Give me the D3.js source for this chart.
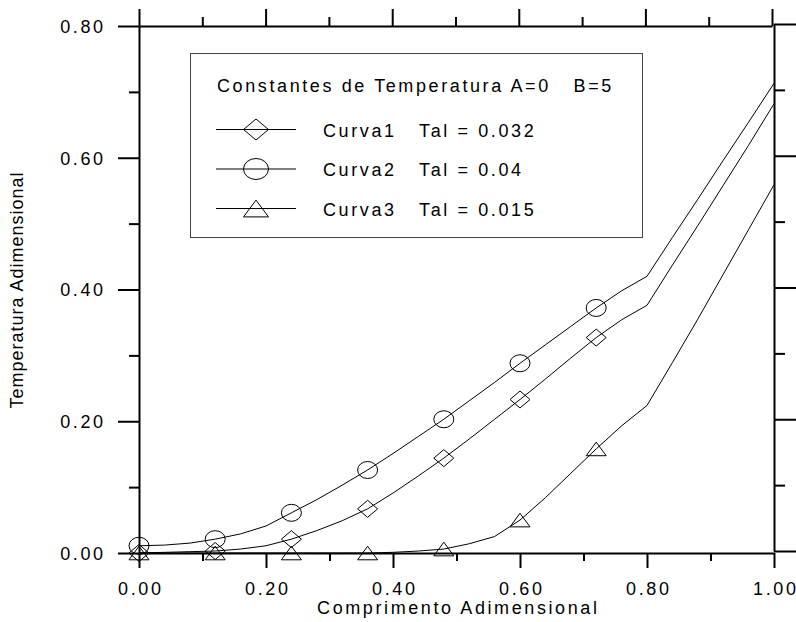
<!DOCTYPE html>
<html>
<head>
<meta charset="utf-8">
<script src="https://cdn.jsdelivr.net/npm/d3@7"></script>
<style>
  body { margin: 0; background: #fff; }
  text { font-family: "Liberation Sans", Arial, sans-serif; fill: #000; }
</style>
</head>
<body>
<svg id="chart" width="796" height="622"></svg>
<script>
// ----- dados -----
const lineX = [0.00, 0.04, 0.08, 0.12, 0.16, 0.20, 0.24, 0.28, 0.32, 0.36, 0.40, 0.44, 0.48,
               0.52, 0.56, 0.60, 0.64, 0.68, 0.72, 0.76, 0.80, 0.84, 0.88, 0.92, 0.96, 1.00];
const curva1 = [0.000, 0.001, 0.002, 0.003, 0.006, 0.011, 0.021, 0.034, 0.049, 0.067, 0.091, 0.117, 0.144,
                0.173, 0.203, 0.233, 0.264, 0.296, 0.327, 0.354, 0.376, 0.437, 0.497, 0.558, 0.619, 0.682];
const curva2 = [0.011, 0.012, 0.015, 0.021, 0.029, 0.041, 0.061, 0.081, 0.103, 0.126, 0.151, 0.177, 0.203,
                0.231, 0.259, 0.288, 0.316, 0.344, 0.372, 0.398, 0.420, 0.479, 0.537, 0.596, 0.654, 0.713];
const curva3 = [0.000, 0.000, 0.000, 0.000, 0.000, 0.000, 0.000, 0.000, 0.000, 0.000, 0.001, 0.003, 0.006,
                0.014, 0.025, 0.050, 0.084, 0.121, 0.158, 0.193, 0.224, 0.289, 0.355, 0.423, 0.491, 0.559];
const markerX = [0.00, 0.12, 0.24, 0.36, 0.48, 0.60, 0.72];

const series = [
  { name: "Curva1", tal: "0.032", values: curva1, symbol: "diamond" },
  { name: "Curva2", tal: "0.04", values: curva2, symbol: "circle" },
  { name: "Curva3", tal: "0.015", values: curva3, symbol: "triangle" }
];
const xTicks = [0, 0.2, 0.4, 0.6, 0.8, 1.0];
const xMinor = [0.1, 0.3, 0.5, 0.7, 0.9];
const yTicks = [0, 0.2, 0.4, 0.6, 0.8];
const yMinor = [0.1, 0.3, 0.5, 0.7];
const legendTitle = "Constantes de Temperatura A=0   B=5";

// ----- escalas -----
const svg = d3.select("#chart");
const x = d3.scaleLinear().domain([0, 1]).range([139, 774]);
const xTop = d3.scaleLinear().domain([0, 1]).range([139, 772]);
const y = d3.scaleLinear().domain([0, 0.8]).range([553, 26]);
const fs = "18px";
const ls = 2.6; // espaçamento das letras
const fmt = d3.format(".2f");

// marcadores (sem preenchimento, alongados na horizontal)
function marker(g, type, cx, cy, w, h) {
  if (type === "circle") {
    g.append("ellipse").attr("cx", cx).attr("cy", cy).attr("rx", w).attr("ry", h);
  } else if (type === "diamond") {
    g.append("path").attr("d", `M${cx - w},${cy}L${cx},${cy - h}L${cx + w},${cy}L${cx},${cy + h}Z`);
  } else {
    g.append("path").attr("d", `M${cx - w},${cy + h * 0.8}L${cx},${cy - h * 0.8}L${cx + w},${cy + h * 0.8}Z`);
  }
}

// ----- eixos -----
function styleAxis(g) {
  g.select(".domain").attr("stroke", "#000").attr("stroke-width", 2);
  g.selectAll(".tick line").attr("stroke", "#000").attr("stroke-width", 2);
}

// inferior
const gBottom = svg.append("g").attr("transform", `translate(0,${y(0)})`);
gBottom.call(d3.axisBottom(x).tickValues(xTicks).tickSize(15).tickSizeOuter(0).tickFormat(fmt));
gBottom.append("g").call(d3.axisBottom(x).tickValues(xMinor).tickSize(8).tickFormat(""))
  .select(".domain").remove();
styleAxis(gBottom);
gBottom.selectAll(".tick text")
  .attr("y", 42).attr("dy", 0).attr("dx", ls / 2)
  .style("font-size", fs).style("letter-spacing", ls + "px");

// esquerdo
const gLeft = svg.append("g").attr("transform", `translate(${x(0)},0)`);
gLeft.call(d3.axisLeft(y).tickValues(yTicks).tickSize(21).tickSizeOuter(0).tickFormat(fmt));
gLeft.append("g").call(d3.axisLeft(y).tickValues(yMinor).tickSize(10).tickFormat(""))
  .select(".domain").remove();
styleAxis(gLeft);
gLeft.selectAll(".tick text")
  .attr("x", -36 + ls).attr("dy", "0.35em")
  .style("font-size", fs).style("letter-spacing", ls + "px");

// superior
const gTop = svg.append("g").attr("transform", `translate(0,${y(0.8)})`);
gTop.call(d3.axisTop(xTop).tickValues(xTicks).tickSize(17).tickSizeOuter(0).tickFormat(""));
gTop.append("g").call(d3.axisTop(xTop).tickValues(xMinor).tickSize(9).tickFormat(""))
  .select(".domain").remove();
styleAxis(gTop);

// direito
const gRight = svg.append("g").attr("transform", `translate(${x(1)},-2)`);
gRight.call(d3.axisRight(y).tickValues(yTicks).tickSize(22).tickSizeOuter(0).tickFormat(""));
gRight.append("g").call(d3.axisRight(y).tickValues(yMinor).tickSize(11).tickFormat(""))
  .select(".domain").remove();
styleAxis(gRight);

// títulos dos eixos
svg.append("text")
  .attr("x", 457 + ls / 2).attr("y", 614)
  .attr("text-anchor", "middle")
  .style("font-size", fs).style("letter-spacing", ls + "px")
  .text("Comprimento Adimensional");

svg.append("text")
  .attr("transform", "translate(23,290) rotate(-90)")
  .attr("text-anchor", "middle")
  .style("font-size", fs).style("letter-spacing", "1px")
  .text("Temperatura Adimensional");

// ----- curvas -----
const line = d3.line().x((d, i) => x(lineX[i])).y(d => y(d));
const gCurves = svg.append("g");
series.forEach(s => {
  gCurves.append("path")
    .attr("d", line(s.values))
    .attr("fill", "none").attr("stroke", "#000").attr("stroke-width", 1);
  const gm = gCurves.append("g").attr("fill", "none").attr("stroke", "#000").attr("stroke-width", 1);
  lineX.forEach((xv, i) => {
    if (markerX.some(m => Math.abs(m - xv) < 1e-9)) {
      marker(gm, s.symbol, x(xv), y(s.values[i]), 10, 8.5);
    }
  });
});

// ----- legenda -----
const gLeg = svg.append("g");
gLeg.append("rect")
  .attr("x", 190.5).attr("y", 53.5).attr("width", 452).attr("height", 184)
  .attr("fill", "none").attr("stroke", "#444").attr("stroke-width", 1);
gLeg.append("text")
  .attr("x", 217).attr("y", 92)
  .attr("xml:space", "preserve")
  .style("white-space", "pre")
  .style("font-size", fs).style("letter-spacing", ls + "px")
  .text(legendTitle);

series.forEach((s, i) => {
  const cy = 129.5 + i * 39.5;
  gLeg.append("line")
    .attr("x1", 216).attr("x2", 296).attr("y1", cy).attr("y2", cy)
    .attr("stroke", "#000").attr("stroke-width", 1);
  const gm = gLeg.append("g").attr("fill", "none").attr("stroke", "#000").attr("stroke-width", 1);
  marker(gm, s.symbol, 256, cy, 12.5, 10.5);
  gLeg.append("text")
    .attr("x", 323).attr("y", cy + 7)
    .attr("xml:space", "preserve")
    .style("white-space", "pre")
    .style("font-size", fs).style("letter-spacing", ls + "px")
    .text(`${s.name}   Tal = ${s.tal}`);
});
</script>
</body>
</html>
